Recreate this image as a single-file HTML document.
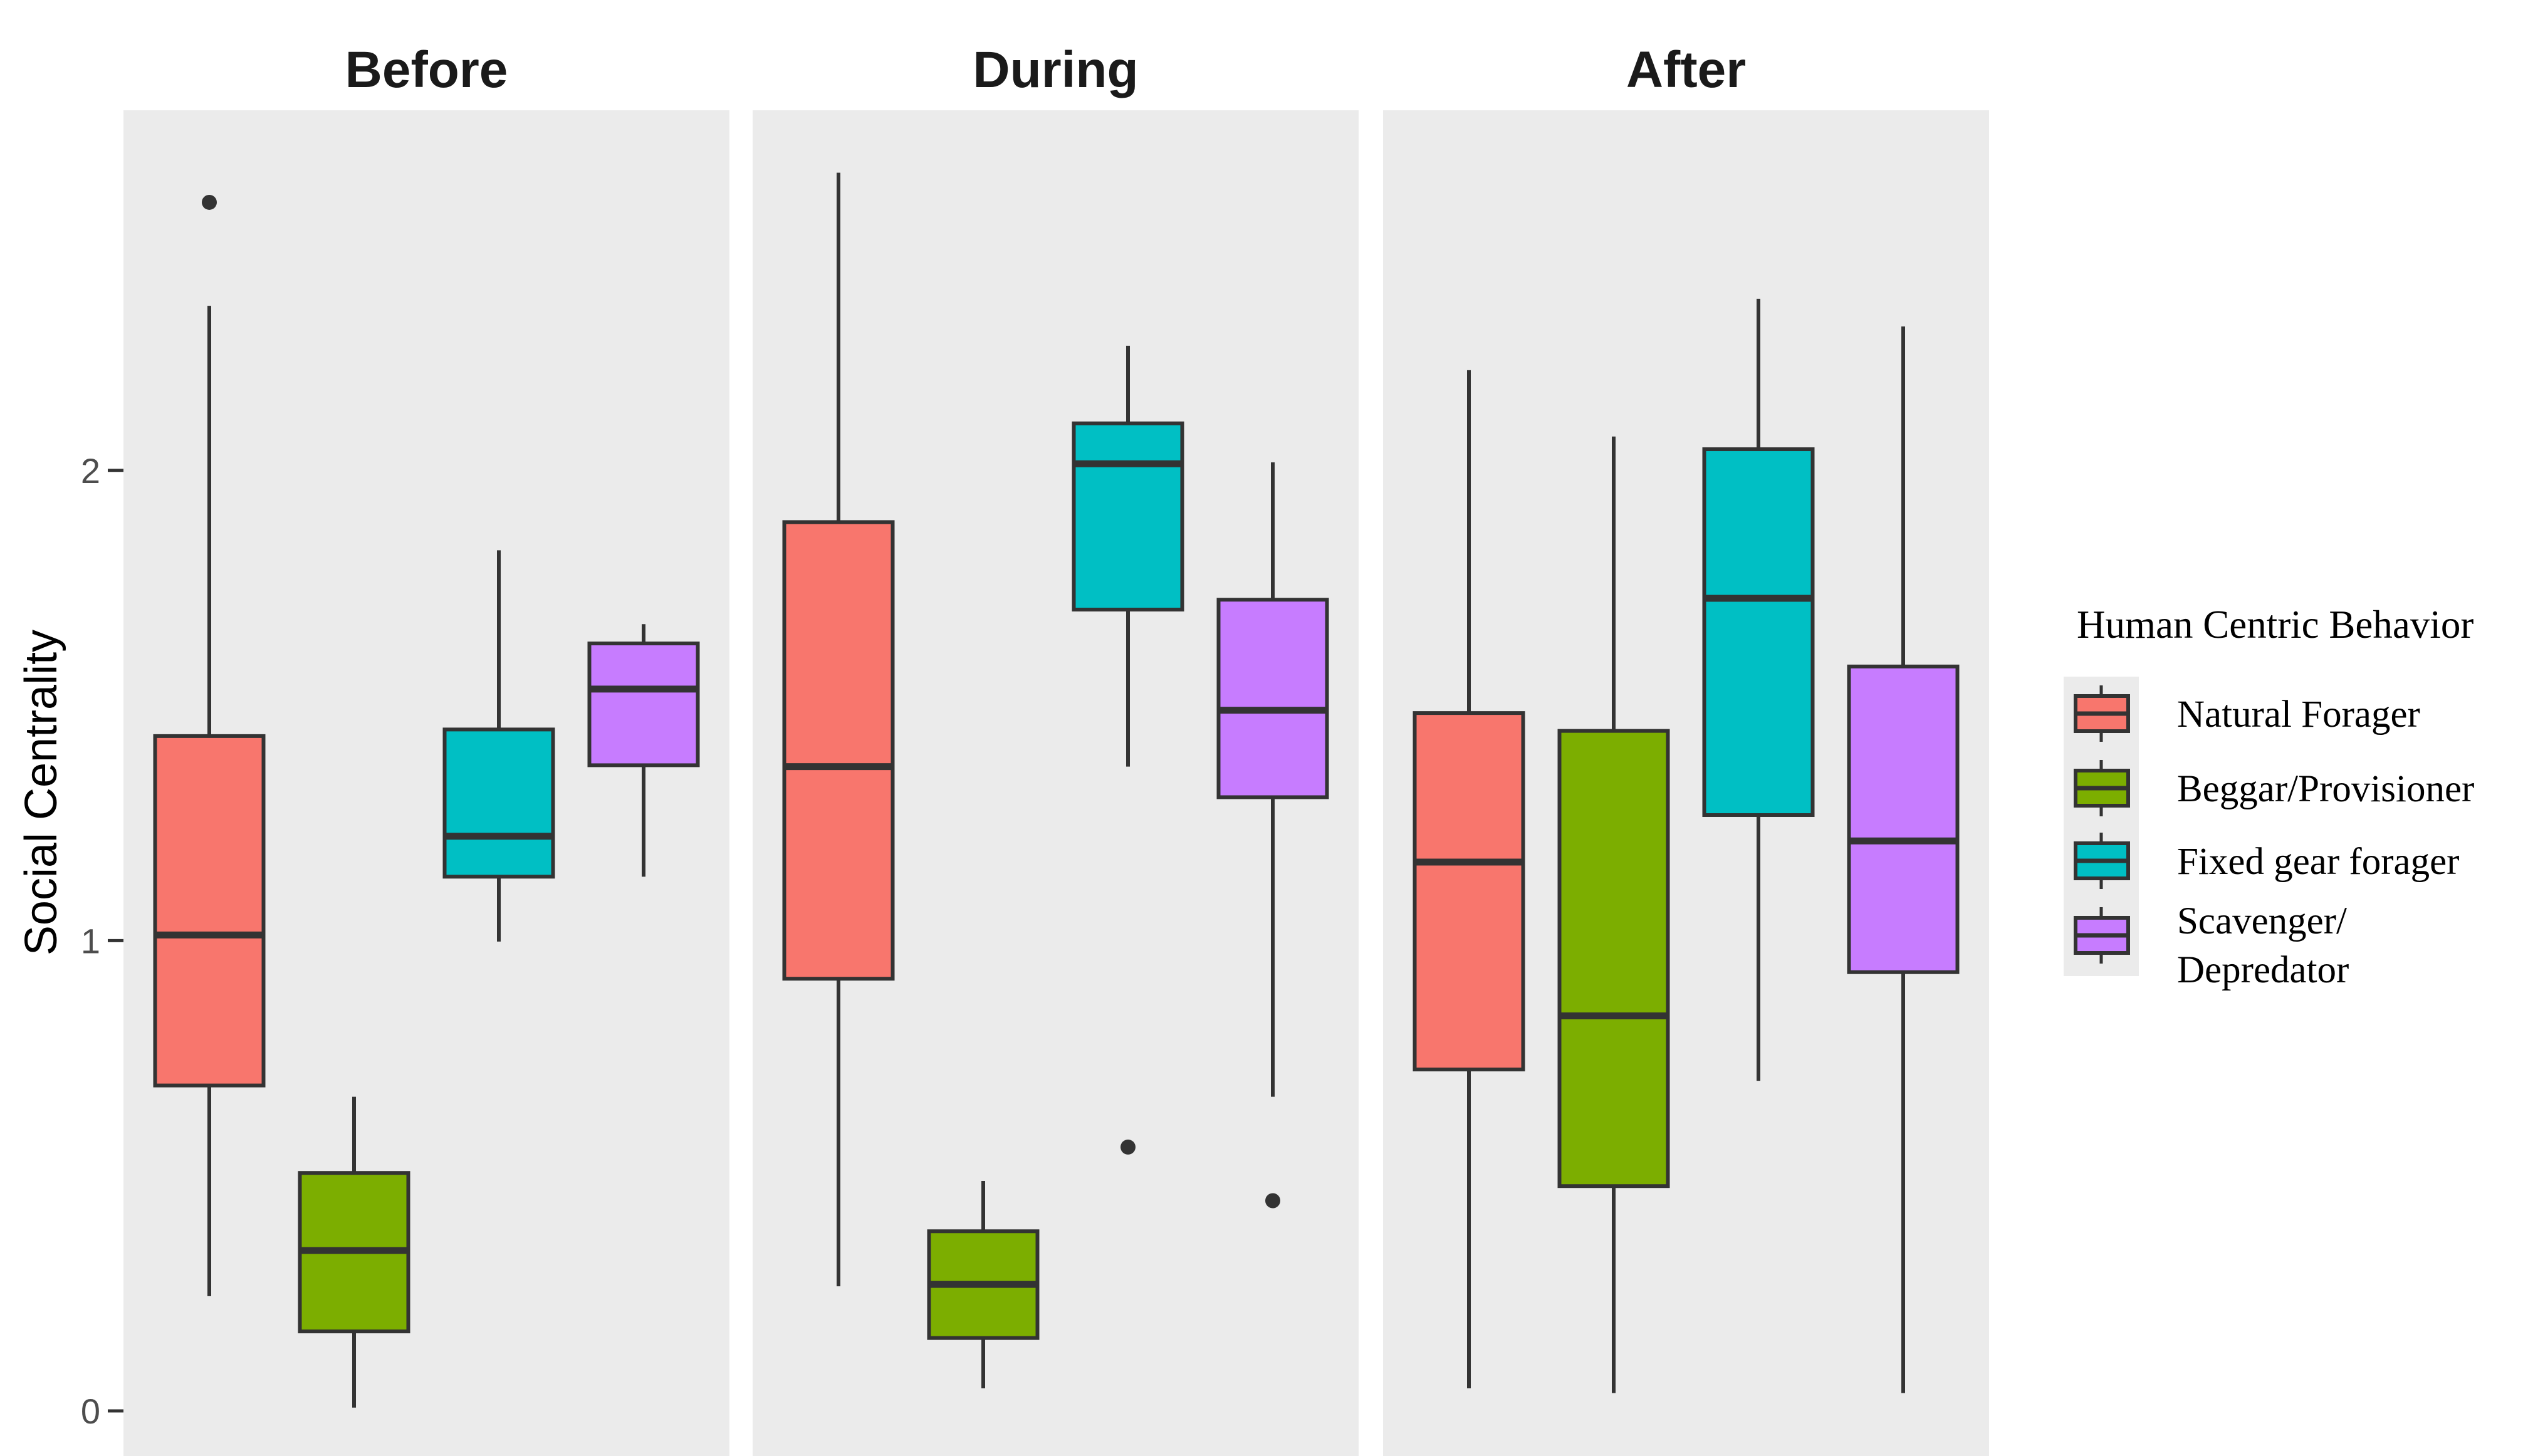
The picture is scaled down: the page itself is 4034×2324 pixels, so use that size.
<!DOCTYPE html>
<html><head><meta charset="utf-8"><style>
html,body{margin:0;padding:0;background:#fff;}
svg{display:block;}
</style></head><body>
<svg id="chart" width="4034" height="2324" viewBox="0 0 4034 2324" xmlns="http://www.w3.org/2000/svg">
<g id="panels"></g>
<g id="yaxis"></g>
<text transform="translate(90,1265) rotate(-90)" text-anchor="middle" font-family="Liberation Sans, sans-serif" font-size="72" fill="#000">Social Centrality</text>
<g id="legend"></g>
</svg>
<script>
const panels = ["Before", "During", "After"];
const categories = ["Natural Forager", "Beggar/Provisioner", "Fixed gear forager", "Scavenger/ Depredator"];
const colors = ["#F8766D", "#7CAE00", "#00BFC4", "#C77CFF"];
const yTicks = [0, 1, 2];
// [lowWhisker, q1, median, q3, highWhisker] per panel per category
const beforeStats = [[0.244,0.692,1.012,1.435,2.35],[0.007,0.169,0.341,0.506,0.668],[0.998,1.136,1.222,1.449,1.83],[1.136,1.373,1.535,1.632,1.673]];
const duringStats = [[0.265,0.919,1.37,1.89,2.633],[0.048,0.155,0.269,0.382,0.489],[1.37,1.704,2.014,2.1,2.265],[0.668,1.305,1.49,1.725,2.017]];
const afterStats = [[0.048,0.726,1.167,1.484,2.213],[0.038,0.478,0.84,1.446,2.072],[0.702,1.267,1.728,2.045,2.365],[0.038,0.933,1.212,1.583,2.306]];
const beforeOutliers = [[2.57],[],[],[]];
const duringOutliers = [[],[],[0.561],[0.447]];
const afterOutliers = [[],[],[],[]];

const stats = [beforeStats, duringStats, afterStats];
const outliers = [beforeOutliers, duringOutliers, afterOutliers];
const NS = "http://www.w3.org/2000/svg";
const panelX = [197, 1201, 2207], panelW = 967, panelTop = 176, panelBot = 2324;
function y(v){ return 2252 - v*750.6; }
function cx(p, i){ return panelX[p] + 137 + i*231; }
const bw = 173;
function mk(tag, attrs, parent){ const e=document.createElementNS(NS,tag); for(const k in attrs) e.setAttribute(k,attrs[k]); parent.appendChild(e); return e; }
const gP = document.getElementById('panels');
panels.forEach((name,p)=>{
  const g = mk('g',{},gP);
  
  
  const bg = mk('rect',{x:panelX[p],y:panelTop,width:panelW,height:panelBot-panelTop,fill:'#EBEBEB'},g);
  
  
  const t = mk('text',{x:panelX[p]+panelW/2,y:139,'text-anchor':'middle','font-family':'Liberation Sans, sans-serif','font-weight':'bold','font-size':82,fill:'#1a1a1a'},g);
  t.textContent = name;
  
  
  stats[p].forEach((s,i)=>{
    const bx = mk('g',{},g);
    
    
    const c = cx(p,i);
    mk('line',{x1:c,x2:c,y1:y(s[4]),y2:y(s[0]),stroke:'#333',"stroke-width":6},bx);
    mk('rect',{x:c-bw/2,y:y(s[3]),width:bw,height:y(s[1])-y(s[3]),fill:colors[i],stroke:'#333',"stroke-width":6},bx);
    mk('line',{x1:c-bw/2,x2:c+bw/2,y1:y(s[2]),y2:y(s[2]),stroke:'#333',"stroke-width":11},bx);
    outliers[p][i].forEach(o=>{
      const d = mk('circle',{cx:c,cy:y(o),r:12,fill:'#333'},bx);
      
      
    });
  });
});
const gY = document.getElementById('yaxis');
yTicks.forEach(v=>{
  mk('line',{x1:172,x2:197,y1:y(v),y2:y(v),stroke:'#333',"stroke-width":5},gY);
  const t = mk('text',{x:160,y:y(v)+20,'text-anchor':'end','font-family':'Liberation Sans, sans-serif','font-size':56,fill:'#4d4d4d'},gY);
  t.textContent = v;
  
  
});
const gL = document.getElementById('legend');
const lt = mk('text',{x:3314,y:1018,'font-family':'Liberation Serif, serif','font-size':63,fill:'#000'},gL);
lt.textContent = 'Human Centric Behavior';


mk('rect',{x:3293,y:1080,width:120,height:478,fill:'#EBEBEB'},gL);
const keyY = [1139, 1258, 1374, 1493];
categories.forEach((c,i)=>{
  const e = mk('g',{},gL);
  
  
  const k = keyY[i];
  mk('line',{x1:3353,x2:3353,y1:k-45,y2:k+45,stroke:'#333',"stroke-width":5},e);
  mk('rect',{x:3312,y:k-28,width:84,height:56,fill:colors[i],stroke:'#333',"stroke-width":6},e);
  mk('line',{x1:3312,x2:3396,y1:k,y2:k,stroke:'#333',"stroke-width":7},e);
  if (i===3){
    const t1 = mk('text',{x:3474,y:1490,'font-family':'Liberation Serif, serif','font-size':61,fill:'#000'},e); t1.textContent='Scavenger/';
    const t2 = mk('text',{x:3474,y:1568,'font-family':'Liberation Serif, serif','font-size':61,fill:'#000'},e); t2.textContent='Depredator';
  } else {
    const t = mk('text',{x:3474,y:k+21,'font-family':'Liberation Serif, serif','font-size':61,fill:'#000'},e); t.textContent=c;
  }
});
</script>
</body></html>
